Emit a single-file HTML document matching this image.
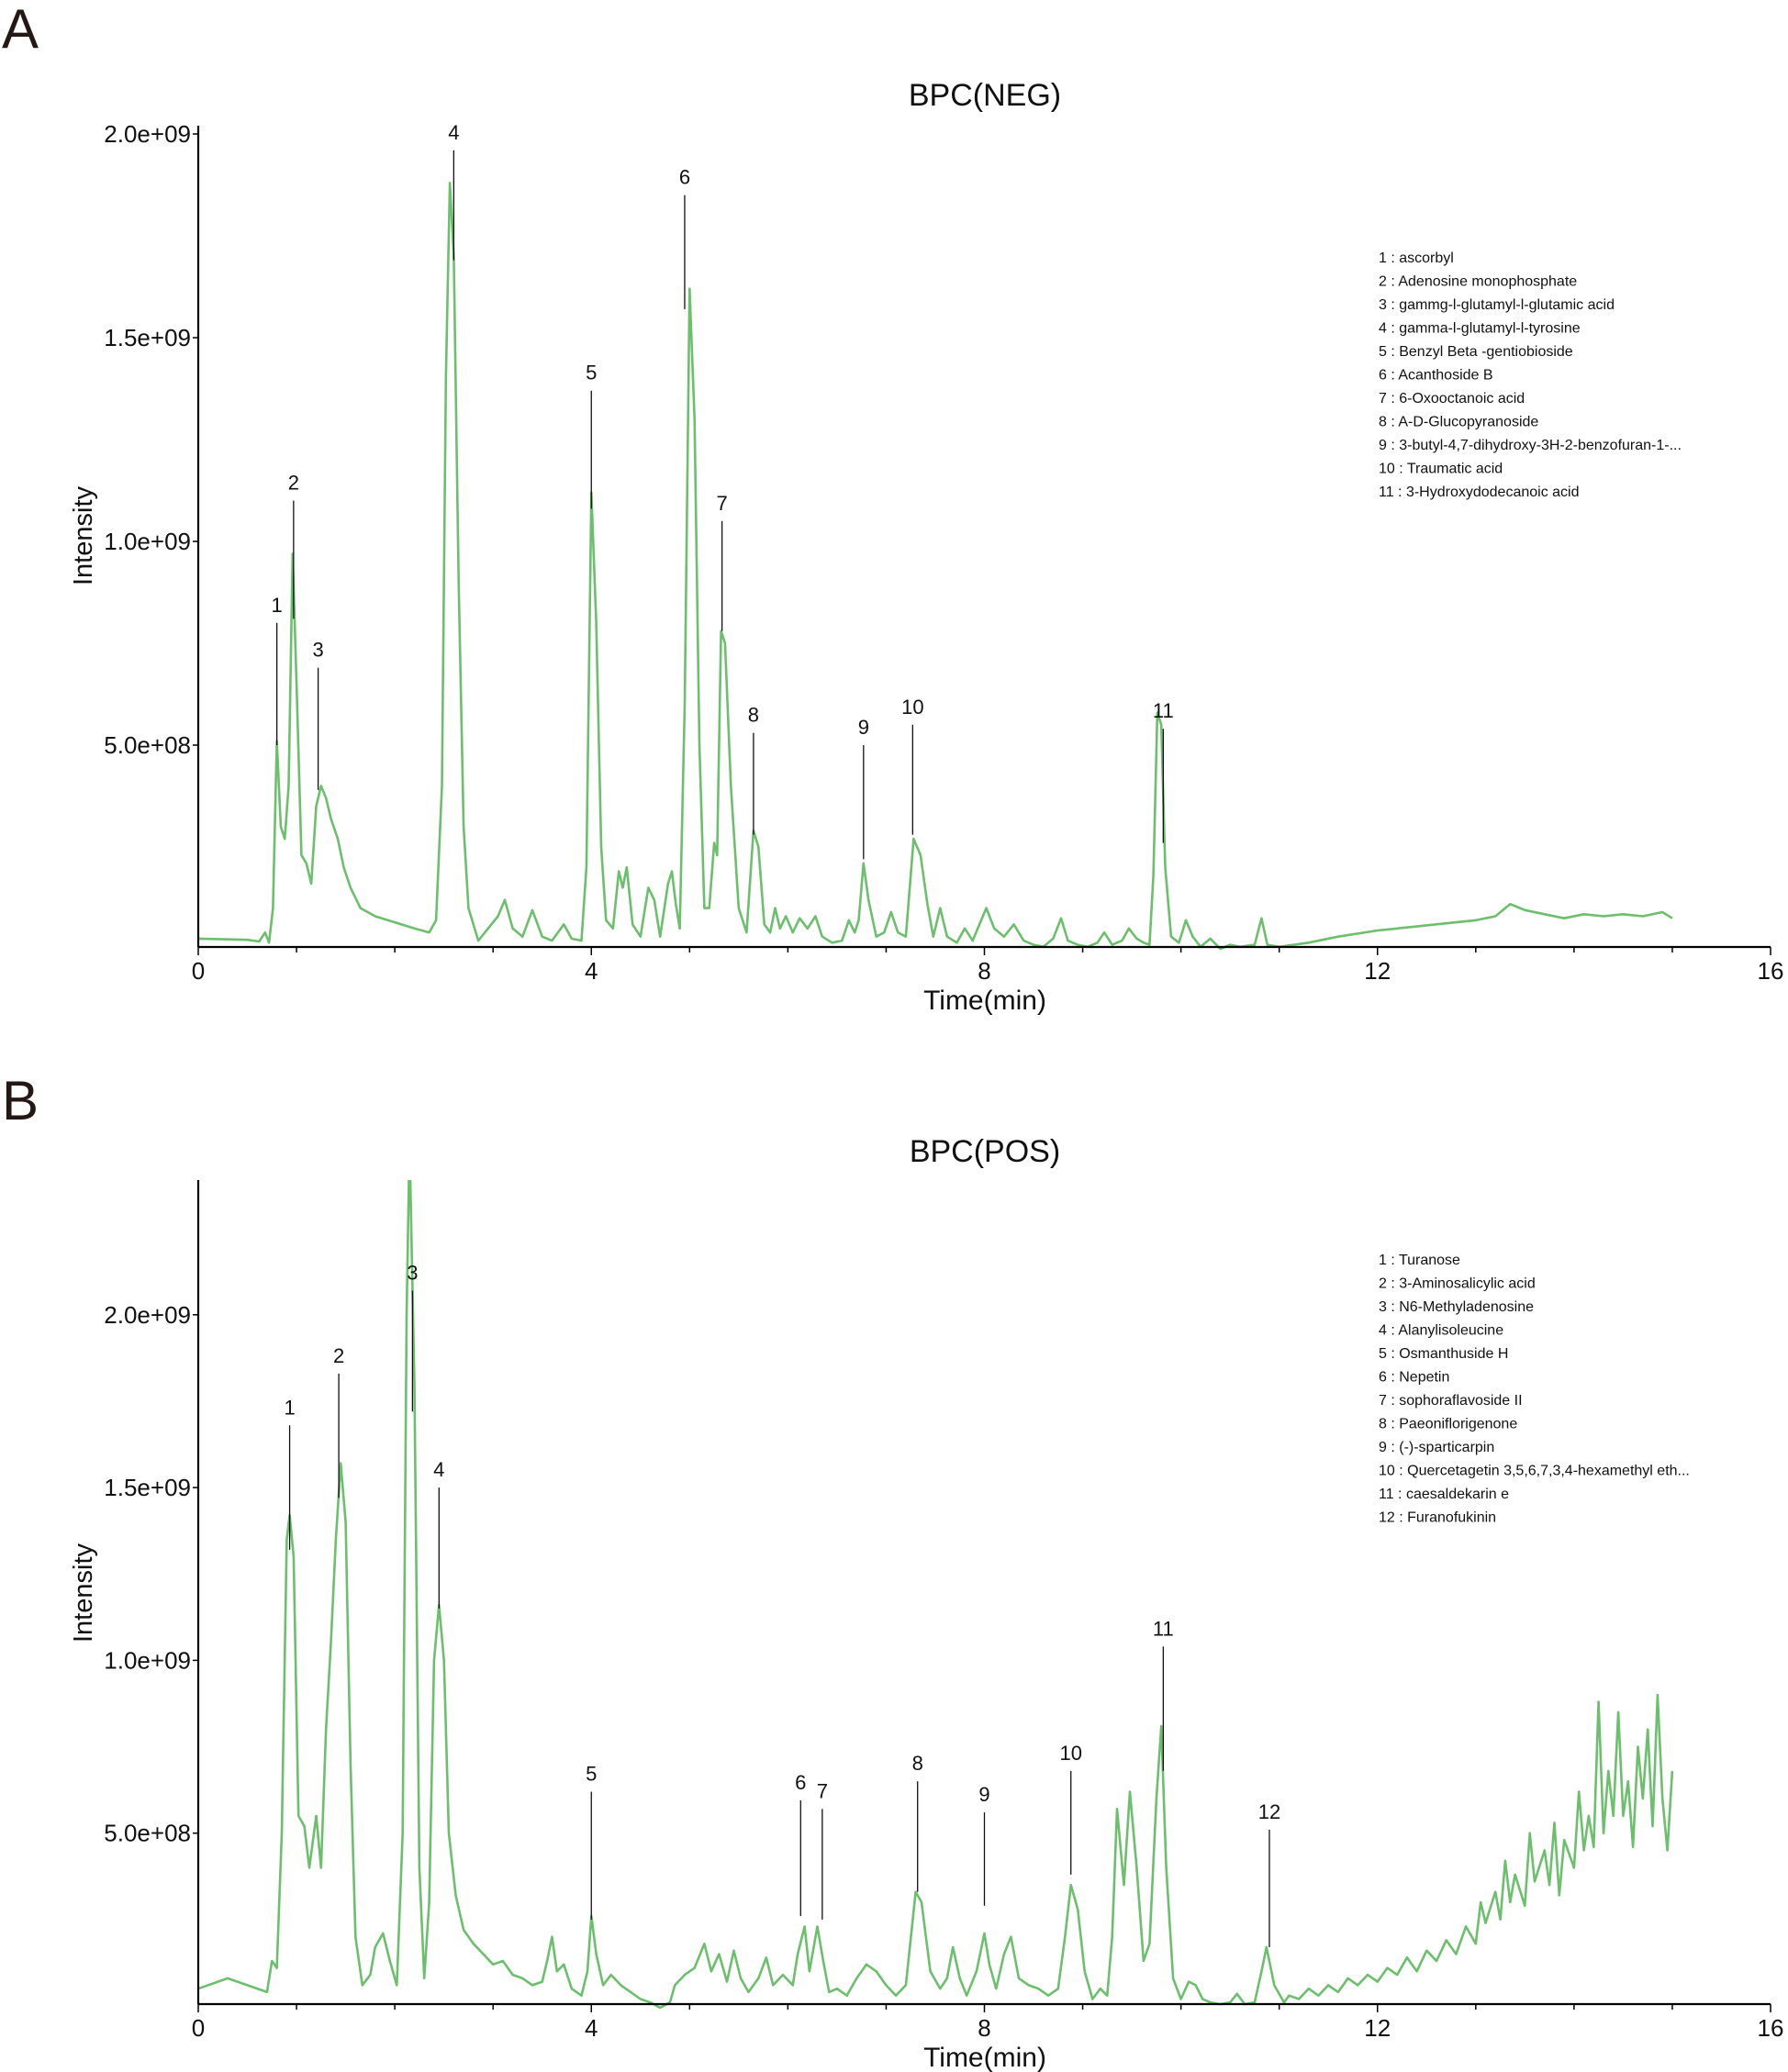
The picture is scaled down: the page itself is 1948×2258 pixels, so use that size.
<!DOCTYPE html>
<html><head><meta charset="utf-8"><style>
body{margin:0;background:#fff;}
svg{display:block;font-family:"Liberation Sans",Arial,sans-serif;}
</style></head><body>
<svg id="fig" width="1948" height="2258" viewBox="0 0 1948 2258" xmlns="http://www.w3.org/2000/svg">
<text x="2" y="52" font-size="60" fill="#231815">A</text>
<text x="2" y="1220" font-size="60" fill="#231815">B</text>
</svg>
<script>
const negTrace=[[0,0.25],[0.5,0.22],[0.62,0.18],[0.68,0.4],[0.72,0.15],[0.76,1.0],[0.8,5.1],[0.84,3.0],[0.88,2.7],[0.92,4.0],[0.96,9.7],[1.0,6.5],[1.05,2.3],[1.1,2.1],[1.15,1.6],[1.2,3.5],[1.25,4.0],[1.3,3.7],[1.35,3.2],[1.42,2.7],[1.48,2.0],[1.55,1.5],[1.65,1.0],[1.8,0.8],[2.0,0.65],[2.2,0.5],[2.35,0.4],[2.42,0.7],[2.48,4],[2.52,14],[2.56,18.8],[2.6,17],[2.65,9],[2.7,3],[2.75,1.0],[2.85,0.2],[2.95,0.5],[3.05,0.8],[3.12,1.2],[3.2,0.5],[3.3,0.3],[3.4,0.95],[3.5,0.3],[3.6,0.2],[3.72,0.6],[3.8,0.25],[3.9,0.2],[3.95,2],[4.0,11.2],[4.05,8],[4.1,2.5],[4.15,0.7],[4.22,0.5],[4.28,1.9],[4.32,1.5],[4.36,2.0],[4.42,0.6],[4.5,0.3],[4.58,1.5],[4.64,1.2],[4.7,0.3],[4.78,1.6],[4.82,1.9],[4.86,1.1],[4.9,0.5],[4.95,6],[5.0,16.2],[5.05,13],[5.1,5],[5.15,1.0],[5.2,1.0],[5.25,2.6],[5.28,2.3],[5.32,7.8],[5.36,7.5],[5.42,4],[5.5,1],[5.58,0.4],[5.65,2.9],[5.7,2.5],[5.76,0.6],[5.82,0.4],[5.87,1.0],[5.92,0.5],[5.98,0.8],[6.05,0.4],[6.12,0.75],[6.2,0.5],[6.28,0.8],[6.35,0.3],[6.45,0.15],[6.55,0.2],[6.62,0.7],[6.68,0.4],[6.72,0.7],[6.77,2.1],[6.82,1.2],[6.9,0.3],[6.98,0.4],[7.05,0.9],[7.12,0.4],[7.2,0.3],[7.28,2.7],[7.35,2.3],[7.42,1.1],[7.48,0.3],[7.55,1.0],[7.62,0.3],[7.72,0.15],[7.8,0.5],[7.88,0.2],[7.95,0.6],[8.02,1.0],[8.1,0.5],[8.2,0.3],[8.3,0.6],[8.4,0.2],[8.5,0.1],[8.6,0.05],[8.7,0.25],[8.78,0.75],[8.85,0.2],[8.95,0.1],[9.05,0.05],[9.15,0.15],[9.22,0.4],[9.3,0.1],[9.4,0.2],[9.47,0.5],[9.55,0.25],[9.62,0.15],[9.68,0.1],[9.72,1.8],[9.76,5.8],[9.8,5.5],[9.84,2],[9.9,0.3],[9.98,0.15],[10.05,0.7],[10.12,0.3],[10.2,0.05],[10.3,0.25],[10.4,0.0],[10.5,0.1],[10.6,0.05],[10.75,0.1],[10.82,0.75],[10.88,0.1],[11.0,0.05],[11.3,0.15],[11.6,0.3],[12.0,0.45],[12.4,0.55],[12.8,0.65],[13.0,0.7],[13.2,0.8],[13.35,1.1],[13.5,0.95],[13.7,0.85],[13.9,0.75],[14.1,0.85],[14.3,0.8],[14.5,0.85],[14.7,0.8],[14.9,0.9],[15.0,0.75]];
const posTrace=[[0,0.5],[0.2,0.7],[0.3,0.8],[0.5,0.6],[0.7,0.4],[0.75,1.3],[0.8,1.1],[0.85,5],[0.9,13.5],[0.93,14.2],[0.97,13],[1.02,5.5],[1.08,5.2],[1.13,4.0],[1.2,5.5],[1.25,4.0],[1.3,8],[1.35,10.5],[1.4,13.5],[1.45,15.7],[1.5,14],[1.55,7],[1.6,2],[1.67,0.6],[1.75,0.9],[1.8,1.7],[1.88,2.1],[1.95,1.3],[2.02,0.6],[2.08,5],[2.12,20],[2.15,25],[2.2,18],[2.25,4],[2.3,0.8],[2.35,3],[2.4,10],[2.45,11.6],[2.5,10],[2.55,5],[2.62,3.2],[2.7,2.2],[2.8,1.8],[2.9,1.5],[3.0,1.2],[3.1,1.3],[3.2,0.9],[3.3,0.8],[3.4,0.6],[3.5,0.7],[3.55,1.3],[3.6,2.0],[3.65,1.0],[3.72,1.2],[3.8,0.5],[3.9,0.3],[3.96,1.0],[4.0,2.6],[4.05,1.5],[4.12,0.6],[4.2,0.9],[4.3,0.6],[4.4,0.4],[4.5,0.2],[4.6,0.1],[4.7,-0.05],[4.8,0.1],[4.85,0.6],[4.95,0.9],[5.05,1.1],[5.15,1.8],[5.22,1.0],[5.3,1.5],[5.38,0.7],[5.45,1.6],[5.52,0.8],[5.6,0.4],[5.7,0.8],[5.78,1.4],[5.85,0.6],[5.95,0.9],[6.05,0.6],[6.1,1.5],[6.17,2.3],[6.22,1.0],[6.3,2.3],[6.36,1.3],[6.42,0.4],[6.5,0.5],[6.6,0.3],[6.7,0.8],[6.8,1.2],[6.9,1.0],[7.0,0.6],[7.1,0.3],[7.2,0.6],[7.3,3.3],[7.36,3.0],[7.45,1.0],[7.55,0.5],[7.62,0.8],[7.68,1.7],[7.75,0.8],[7.82,0.3],[7.92,1.0],[8.0,2.1],[8.05,1.2],[8.12,0.5],[8.2,1.5],[8.27,2.0],[8.35,0.8],[8.45,0.6],[8.55,0.5],[8.65,0.3],[8.75,0.5],[8.82,2.0],[8.88,3.5],[8.95,2.8],[9.02,1.0],[9.1,0.2],[9.18,0.5],[9.25,0.3],[9.3,2],[9.35,5.7],[9.42,3.5],[9.48,6.2],[9.55,4],[9.62,1.3],[9.68,1.8],[9.75,6],[9.8,8.1],[9.85,4],[9.92,0.8],[10.0,0.2],[10.08,0.7],[10.15,0.6],[10.22,0.2],[10.3,0.1],[10.4,0.05],[10.5,0.1],[10.57,0.35],[10.65,0.05],[10.75,0.1],[10.82,1.0],[10.87,1.7],[10.95,0.6],[11.05,0.1],[11.1,0.3],[11.2,0.2],[11.3,0.5],[11.4,0.3],[11.5,0.6],[11.6,0.4],[11.7,0.8],[11.8,0.6],[11.9,0.9],[12.0,0.7],[12.1,1.1],[12.2,0.9],[12.3,1.4],[12.4,1.0],[12.5,1.6],[12.6,1.3],[12.7,1.9],[12.8,1.5],[12.9,2.3],[13.0,1.8],[13.05,3.0],[13.1,2.4],[13.2,3.3],[13.25,2.5],[13.3,4.2],[13.35,3.0],[13.4,3.8],[13.5,2.9],[13.55,5.0],[13.6,3.6],[13.7,4.5],[13.75,3.5],[13.8,5.3],[13.85,3.2],[13.9,4.8],[14.0,4.0],[14.05,6.2],[14.1,4.5],[14.15,5.5],[14.2,4.6],[14.25,8.8],[14.3,5.0],[14.35,6.8],[14.4,5.5],[14.45,8.5],[14.5,5.5],[14.55,6.5],[14.6,4.6],[14.65,7.5],[14.7,6.0],[14.75,8.0],[14.8,5.2],[14.85,9.0],[14.9,6.0],[14.95,4.5],[15.0,6.8]];
const negLabels=["1","2","3","4","5","6","7","8","9","10","11"];
const negLabelTimes=[0.8,0.97,1.22,2.6,4.0,4.95,5.33,5.65,6.77,7.27,9.82];
const negLabelTops=[8.0,11.0,6.9,19.6,13.7,18.5,10.5,5.3,5.0,5.5,5.4];
const negLabelBottoms=[5.0,8.1,3.9,16.9,10.8,15.7,7.8,2.8,2.2,2.8,2.6];
const posLabels=["1","2","3","4","5","6","7","8","9","10","11","12"];
const posLabelTimes=[0.93,1.43,2.18,2.45,4.0,6.13,6.35,7.32,8.0,8.88,9.82,10.9];
const posLabelTops=[16.8,18.3,20.7,15.0,6.2,5.95,5.7,6.5,5.6,6.8,10.4,5.1];
const posLabelBottoms=[13.2,14.7,17.2,11.5,2.5,2.6,2.5,3.3,2.9,3.8,6.8,1.7];
const negLegend=["1 : ascorbyl","2 : Adenosine monophosphate","3 : gammg-l-glutamyl-l-glutamic acid","4 : gamma-l-glutamyl-l-tyrosine","5 : Benzyl Beta -gentiobioside","6 : Acanthoside B","7 : 6-Oxooctanoic acid","8 : A-D-Glucopyranoside","9 : 3-butyl-4,7-dihydroxy-3H-2-benzofuran-1-...","10 : Traumatic acid","11 : 3-Hydroxydodecanoic acid"];
const posLegend=["1 : Turanose","2 : 3-Aminosalicylic acid","3 : N6-Methyladenosine","4 : Alanylisoleucine","5 : Osmanthuside H","6 : Nepetin","7 : sophoraflavoside II","8 : Paeoniflorigenone","9 : (-)-sparticarpin","10 : Quercetagetin 3,5,6,7,3,4-hexamethyl eth...","11 : caesaldekarin e","12 : Furanofukinin"];
const xTicks=[0,4,8,12,16];
const yTickVals=[5,10,15,20];
const yTickText=["5.0e+08","1.0e+09","1.5e+09","2.0e+09"];

const NS="http://www.w3.org/2000/svg";
const svg=document.getElementById('fig');
function mk(tag,attrs,parent){const e=document.createElementNS(NS,tag);for(const k in attrs)e.setAttribute(k,attrs[k]);(parent||svg).appendChild(e);return e;}

function panel(p){
  const g=mk('g',{});
  
  
  const x0=216,x1=1929;
  const sx=t=>x0+(t/16)*(x1-x0);
  const sy=v=>p.zeroY-v*p.perUnit;
  const clip=mk('clipPath',{id:p.id+'-clip'},g);
  mk('rect',{x:x0,y:p.topY,width:x1-x0,height:p.zeroY-p.topY+4},clip);
  const t=mk('text',{x:1073,y:p.titleY,'font-size':34,'text-anchor':'middle',fill:'#111'},g);
  t.textContent=p.title;
  
  
  // trace
  const d=p.trace.map((q,i)=>(i?'L':'M')+sx(q[0]).toFixed(1)+' '+sy(q[1]).toFixed(1)).join(' ');
  const path=mk('path',{d:d,fill:'none',stroke:'#6cbf6c','stroke-width':2.6,'stroke-linejoin':'round','clip-path':'url(#'+p.id+'-clip)'},g);
  
  
  // axes
  const xa=mk('line',{x1:x0,y1:p.axisY,x2:x1,y2:p.axisY,stroke:'#000','stroke-width':2.2},g);
  
  
  const ya=mk('line',{x1:x0,y1:p.topY,x2:x0,y2:p.axisY,stroke:'#000','stroke-width':2.2},g);
  
  
  for(let m=0;m<=16;m++){
    mk('line',{x1:sx(m),y1:p.axisY,x2:sx(m),y2:p.axisY+(m%4===0?9:6),stroke:'#000','stroke-width':1.5},g);
  }
  xTicks.forEach(v=>{
    const tl=mk('text',{x:sx(v),y:p.axisY+35,'font-size':26,'text-anchor':'middle',fill:'#111'},g);
    tl.textContent=v;
    
    
  });
  yTickVals.forEach((v,i)=>{
    const y=sy(v);
    mk('line',{x1:x0-6,y1:y,x2:x0,y2:y,stroke:'#000','stroke-width':1.5},g);
    const tl=mk('text',{x:x0-8,y:y+9,'font-size':26,'text-anchor':'end',fill:'#111'},g);
    tl.textContent=yTickText[i];
    
    
  });
  const xl=mk('text',{x:1073,y:p.axisY+68,'font-size':30,'text-anchor':'middle',fill:'#111'},g);
  xl.textContent='Time(min)';
  
  
  const yl=mk('text',{x:0,y:0,'font-size':29,'text-anchor':'middle',fill:'#111',transform:'translate(100 '+p.yLabelY+') rotate(-90)'},g);
  yl.textContent='Intensity';
  
  
  // annotations
  p.labels.forEach((lab,i)=>{
    const x=sx(p.times[i]);
    const ln=mk('line',{x1:x,y1:sy(p.tops[i]),x2:x,y2:sy(p.bottoms[i]),stroke:'#111','stroke-width':1.3},g);
    
    
    const tl=mk('text',{x:x,y:sy(p.tops[i])-12,'font-size':22,'text-anchor':'middle',fill:'#111'},g);
    tl.textContent=lab;
    
    
  });
  // legend
  p.legend.forEach((s,i)=>{
    const tl=mk('text',{x:1502,y:p.legendY+i*25.5,'font-size':16,fill:'#111'},g);
    tl.textContent=s;
    
    
  });
}
panel({id:'neg',title:'BPC(NEG)',titleY:115,zeroY:1034,perUnit:44.4,topY:137,axisY:1032,yLabelY:584,
  trace:negTrace,labels:negLabels,times:negLabelTimes,tops:negLabelTops,bottoms:negLabelBottoms,legend:negLegend,legendY:286});
panel({id:'pos',title:'BPC(POS)',titleY:1266,zeroY:2186,perUnit:37.66,topY:1286,axisY:2184,yLabelY:1736,
  trace:posTrace,labels:posLabels,times:posLabelTimes,tops:posLabelTops,bottoms:posLabelBottoms,legend:posLegend,legendY:1378});
</script>
</body></html>
